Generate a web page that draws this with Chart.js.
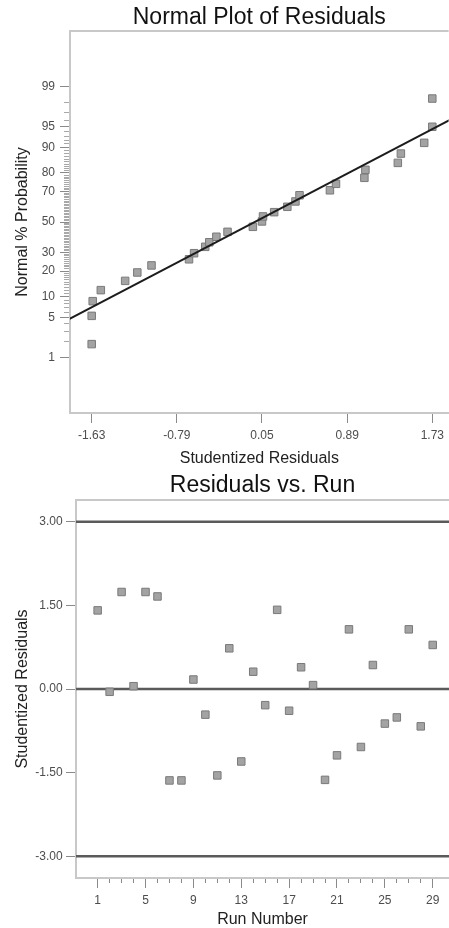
<!DOCTYPE html>
<html>
<head>
<meta charset="utf-8">
<script src="https://cdn.jsdelivr.net/npm/chart.js@4.4.1/dist/chart.umd.min.js"></script>
<style>
  body { margin: 0; background: #fff; }
  canvas { display: block; }
</style>
</head>
<body>
<canvas id="normalPlot" width="449" height="468"></canvas>
<canvas id="runPlot" width="449" height="460"></canvas>
<script>
// normal plot: sorted studentized residuals and their normal % probability
const normResiduals = [-1.63, -1.63, -1.62, -1.54, -1.30, -1.18, -1.04, -0.67, -0.62, -0.51,
  -0.47, -0.40, -0.29, -0.04, 0.05, 0.06, 0.17, 0.30, 0.38, 0.42,
  0.72, 0.78, 1.06, 1.07, 1.39, 1.42, 1.65, 1.73, 1.73];
const normPercent = [1.8, 5.35, 8.7, 12.1, 15.6, 19.3, 22.8, 26.1, 29.6, 33.5,
  36.4, 40.0, 43.3, 46.7, 50.4, 53.8, 56.7, 60.3, 63.8, 67.7,
  70.7, 74.4, 77.6, 81.5, 84.5, 88.0, 91.3, 94.9, 98.3];
const fitResiduals = [-1.85, 1.90];
const fitPercent = [4.8, 96.0];
const normXTicks = [-1.63, -0.79, 0.05, 0.89, 1.73];
const probLabels = [1, 5, 10, 20, 30, 50, 70, 80, 90, 95, 99];

// residuals vs run
const runNumbers = [1, 2, 3, 4, 5, 6, 7, 8, 9, 10, 11, 12, 13, 14, 15,
  16, 17, 18, 19, 20, 21, 22, 23, 24, 25, 26, 27, 28, 29];
const runResiduals = [1.41, -0.05, 1.74, 0.05, 1.74, 1.66, -1.64, -1.64, 0.17, -0.46,
  -1.55, 0.73, -1.30, 0.31, -0.29, 1.42, -0.39, 0.39, 0.07, -1.63,
  -1.19, 1.07, -1.04, 0.43, -0.62, -0.51, 1.07, -0.67, 0.79];
const runXLabels = [1, 5, 9, 13, 17, 21, 25, 29];
const runYTicks = [3, 1.5, 0, -1.5, -3];
const limitLines = [3, 0, -3];

// inverse normal cdf (Acklam) for the probability axis
function qnorm(p) {
  const a = [-39.69683028665376, 220.9460984245205, -275.9285104469687, 138.357751867269, -30.66479806614716, 2.506628277459239];
  const b = [-54.47609879822406, 161.5858368580409, -155.6989798598866, 66.80131188771972, -13.28068155288572];
  const c = [-0.007784894002430293, -0.3223964580411365, -2.400758277161838, -2.549732539343734, 4.374664141464968, 2.938163982698783];
  const d = [0.007784695709041462, 0.3224671290700398, 2.445134137142996, 3.754408661907416];
  const tail = q => (((((c[0]*q+c[1])*q+c[2])*q+c[3])*q+c[4])*q+c[5]) / ((((d[0]*q+d[1])*q+d[2])*q+d[3])*q+1);
  if (p < 0.02425) return tail(Math.sqrt(-2 * Math.log(p)));
  if (p > 1 - 0.02425) return -tail(Math.sqrt(-2 * Math.log(1 - p)));
  const q = p - 0.5, r = q * q;
  return (((((a[0]*r+a[1])*r+a[2])*r+a[3])*r+a[4])*r+a[5])*q / (((((b[0]*r+b[1])*r+b[2])*r+b[3])*r+b[4])*r+1);
}

const probTicks = Array.from({length: 99}, (_, i) => i + 1);

Chart.defaults.font.family = "'Liberation Sans', Arial, sans-serif";
Chart.defaults.color = '#4d4d4d';

const tickGrey = '#8a8a8a';
const frameGrey = '#c8c8c8';

// top edge of the plot frame
const frameTop = {
  id: 'frameTop',
  beforeDatasetsDraw(chart) {
    const {ctx, chartArea: a} = chart;
    ctx.save();
    ctx.strokeStyle = frameGrey;
    ctx.lineWidth = 2;
    ctx.beginPath();
    ctx.moveTo(a.left, a.top);
    ctx.lineTo(a.right, a.top);
    ctx.stroke();
    ctx.restore();
  }
};

const squares = {
  pointStyle: 'rect',
  pointRadius: 5.3,
  pointBackgroundColor: '#a3a3a3',
  pointBorderColor: '#7a7a7a',
  pointBorderWidth: 1,
  showLine: false
};

new Chart(document.getElementById('normalPlot'), {
  type: 'scatter',
  data: {
    datasets: [
      Object.assign({
        data: normResiduals.map((r, i) => ({x: r, y: qnorm(normPercent[i] / 100)})),
        order: 2
      }, squares),
      {
        type: 'line',
        data: fitResiduals.map((r, i) => ({x: r, y: qnorm(fitPercent[i] / 100)})),
        borderColor: '#1c1c1c',
        borderWidth: 2,
        pointRadius: 0,
        order: 1
      }
    ]
  },
  options: {
    responsive: false,
    animation: false,
    layout: { padding: 0, autoPadding: false },
    plugins: {
      legend: { display: false },
      tooltip: { enabled: false },
      title: {
        display: true,
        text: 'Normal Plot of Residuals',
        fullSize: false,
        color: '#111',
        font: { size: 23, weight: 'normal', lineHeight: 1 },
        padding: { top: 6, bottom: 2 }
      }
    },
    scales: {
      x: {
        type: 'linear',
        min: -1.844,
        max: 1.891,
        afterBuildTicks: s => { s.ticks = normXTicks.map(v => ({value: v})); },
        afterFit: s => { s.height = 55; },
        ticks: { autoSkip: false, maxRotation: 0, padding: 5, font: { size: 12 },
          callback: v => v.toFixed(2) },
        grid: { drawOnChartArea: false, tickLength: 10, tickColor: tickGrey, tickWidth: 1 },
        border: { color: frameGrey, width: 2 },
        title: { display: true, text: 'Studentized Residuals', color: '#222',
          font: { size: 16, lineHeight: 1 }, padding: { top: 0, bottom: 1.5 } }
      },
      y: {
        type: 'linear',
        min: -3.28,
        max: 3.28,
        afterBuildTicks: s => { s.ticks = probTicks.map(p => ({value: qnorm(p / 100)})); },
        afterFit: s => { s.width = 70; },
        ticks: { autoSkip: false, padding: 5, font: { size: 12 },
          callback: (v, i) => probLabels.includes(probTicks[i]) ? String(probTicks[i]) : '' },
        grid: {
          drawOnChartArea: false, tickLength: 10, tickWidth: 1,
          tickColor: c => probLabels.includes(probTicks[c.index]) ? tickGrey : '#a8a8a8',
          tickBorderDash: c => probLabels.includes(probTicks[c.index]) ? [] : [0, 4, 5, 100]
        },
        border: { color: frameGrey, width: 2 },
        title: { display: true, text: 'Normal % Probability', color: '#222',
          font: { size: 16, lineHeight: 1 }, padding: { top: 15, bottom: 0 } }
      }
    }
  },
  plugins: [frameTop]
});

new Chart(document.getElementById('runPlot'), {
  type: 'scatter',
  data: {
    datasets: [
      Object.assign({
        data: runNumbers.map((n, i) => ({x: n, y: runResiduals[i]})),
        order: 1
      }, squares)
    ].concat(limitLines.map(v => ({
      type: 'line',
      data: [{x: -0.81, y: v}, {x: 30.36, y: v}],
      borderColor: '#5a5a5a',
      borderWidth: 2.5,
      pointRadius: 0,
      order: 2
    })))
  },
  options: {
    responsive: false,
    animation: false,
    layout: { padding: 0, autoPadding: false },
    plugins: {
      legend: { display: false },
      tooltip: { enabled: false },
      title: {
        display: true,
        text: 'Residuals vs. Run',
        fullSize: false,
        color: '#111',
        font: { size: 23, weight: 'normal', lineHeight: 1 },
        padding: { top: 6.5, bottom: 2.5 }
      }
    },
    scales: {
      x: {
        type: 'linear',
        min: -0.81,
        max: 30.36,
        afterBuildTicks: s => { s.ticks = runNumbers.map(v => ({value: v})); },
        afterFit: s => { s.height = 50; },
        ticks: { autoSkip: false, maxRotation: 0, padding: 5.5, font: { size: 12 },
          callback: v => runXLabels.includes(v) ? String(v) : '' },
        grid: {
          drawOnChartArea: false, tickLength: 10, tickWidth: 1,
          tickColor: tickGrey,
          tickBorderDash: c => runXLabels.includes(runNumbers[c.index]) ? [] : [4, 100]
        },
        border: { color: frameGrey, width: 2 },
        title: { display: true, text: 'Run Number', color: '#222',
          font: { size: 16, lineHeight: 1 }, padding: { top: 0, bottom: 0 } }
      },
      y: {
        type: 'linear',
        min: -3.39,
        max: 3.39,
        afterBuildTicks: s => { s.ticks = runYTicks.map(v => ({value: v})); },
        afterFit: s => { s.width = 76; },
        ticks: { autoSkip: false, padding: 3.3, font: { size: 12 },
          callback: v => v.toFixed(2) },
        grid: { drawOnChartArea: false, tickLength: 10, tickColor: tickGrey, tickWidth: 1 },
        border: { color: frameGrey, width: 2 },
        title: { display: true, text: 'Studentized Residuals', color: '#222',
          font: { size: 16, lineHeight: 1 }, padding: { top: 15, bottom: 0 } }
      }
    }
  },
  plugins: [frameTop]
});
</script>
</body>
</html>
